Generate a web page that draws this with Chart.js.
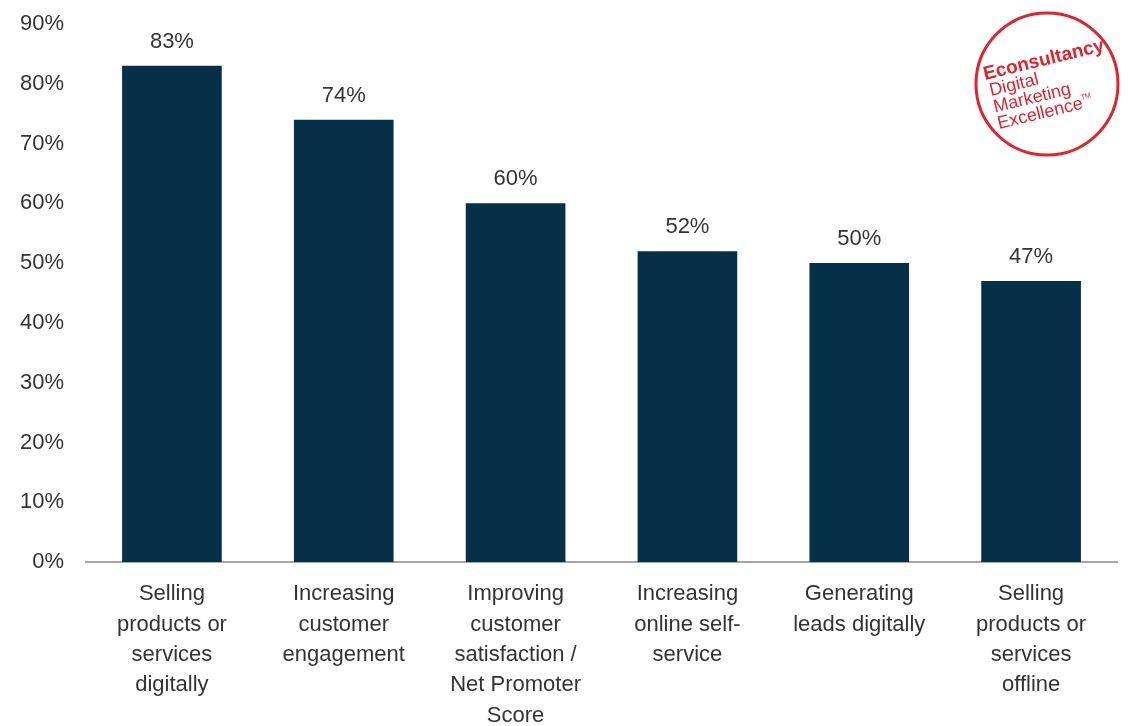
<!DOCTYPE html>
<html>
<head>
<meta charset="utf-8">
<script src="https://cdn.jsdelivr.net/npm/chart.js@4/dist/chart.umd.min.js"></script>
<style>
  html, body { margin: 0; padding: 0; background: #fff; }
  #wrap { width: 1128px; height: 726px; position: relative; }
</style>
</head>
<body>
<div id="wrap"><canvas id="barcanvas" width="1128" height="726"></canvas></div>
<script>
// categories, values (fractions) and axis ticks
var categories = [
	["Selling", "products or", "services", "digitally"],
	["Increasing", "customer", "engagement"],
	["Improving", "customer", "satisfaction /", "Net Promoter", "Score"],
	["Increasing", "online self-", "service"],
	["Generating", "leads digitally"],
	["Selling", "products or", "services", "offline"]
];
var shares = [0.83, 0.74, 0.60, 0.52, 0.50, 0.47];
var yTicks = [0, 0.1, 0.2, 0.3, 0.4, 0.5, 0.6, 0.7, 0.8, 0.9];

var FONT = "'Liberation Sans', Arial, sans-serif";
var TEXT = "#333333";

// percentage above each bar
var valueLabels = {
	id: "valueLabels",
	afterDatasetsDraw: function(chart) {
		var ctx = chart.ctx;
		var meta = chart.getDatasetMeta(0);
		ctx.save();
		ctx.font = "22px " + FONT;
		ctx.fillStyle = TEXT;
		ctx.textAlign = "center";
		ctx.textBaseline = "bottom";
		meta.data.forEach(function(bar, i) {
			ctx.fillText(Math.round(shares[i] * 100) + "%", bar.x, bar.y - 13);
		});
		ctx.restore();
	}
};

// red round stamp in the top right corner
var stamp = {
	id: "stamp",
	afterDraw: function(chart) {
		var ctx = chart.ctx;
		ctx.save();
		ctx.strokeStyle = "#e3222b";
		ctx.lineWidth = 3;
		ctx.beginPath();
		ctx.arc(1047, 84, 71, 0, Math.PI * 2);
		ctx.stroke();

		ctx.translate(985, 80);
		ctx.rotate(-0.24);
		ctx.fillStyle = "#e3222b";
		ctx.textAlign = "left";
		ctx.textBaseline = "alphabetic";
		ctx.font = "bold 19px " + FONT;
		ctx.fillText("Econsultancy", 0, 0);
		ctx.font = "18px " + FONT;
		ctx.fillText("Digital", 2, 17);
		ctx.fillText("Marketing", 2, 34);
		ctx.fillText("Excellence", 2, 51);
		ctx.font = "7px " + FONT;
		ctx.fillText("TM", 89, 42);
		ctx.restore();
	}
};

var ctx = document.getElementById("barcanvas");

var chartdata = {
	labels: categories,
	datasets: [
		{
			label: "Share",
			backgroundColor: "#063047",
			borderWidth: 0,
			barPercentage: 0.58,
			categoryPercentage: 1,
			data: shares
		}
	]
};

var BarGraph = new Chart(ctx, {
	type: "bar",
	data: chartdata,
	options: {
		responsive: false,
		animation: false,
		devicePixelRatio: 1,
		layout: { padding: { top: 24, right: 11, left: 0, bottom: 0 } },
		plugins: {
			legend: { display: false },
			tooltip: { enabled: false }
		},
		scales: {
			x: {
				grid: { display: false, drawTicks: false },
				border: { display: true, color: "#a6a6a6", width: 2 },
				ticks: {
					color: TEXT,
					font: { family: FONT, size: 22, lineHeight: 1.38 },
					padding: 17,
					maxRotation: 0,
					autoSkip: false
				},
				afterFit: function(scale) { scale.height = 164; }
			},
			y: {
				min: 0,
				max: 0.9,
				afterBuildTicks: function(scale) {
					scale.ticks = yTicks.map(function(v) { return { value: v }; });
				},
				grid: { display: false, drawTicks: false },
				border: { display: false },
				ticks: {
					color: TEXT,
					font: { family: FONT, size: 22 },
					padding: 22,
					callback: function(v) { return Math.round(v * 100) + "%"; }
				},
				afterFit: function(scale) {
					// fixed axis width; the tick padding should not push the plot down
					scale.width = 86;
					scale.paddingTop = 0;
					scale.paddingBottom = 0;
				}
			}
		}
	},
	plugins: [valueLabels, stamp]
});
</script>
</body>
</html>
